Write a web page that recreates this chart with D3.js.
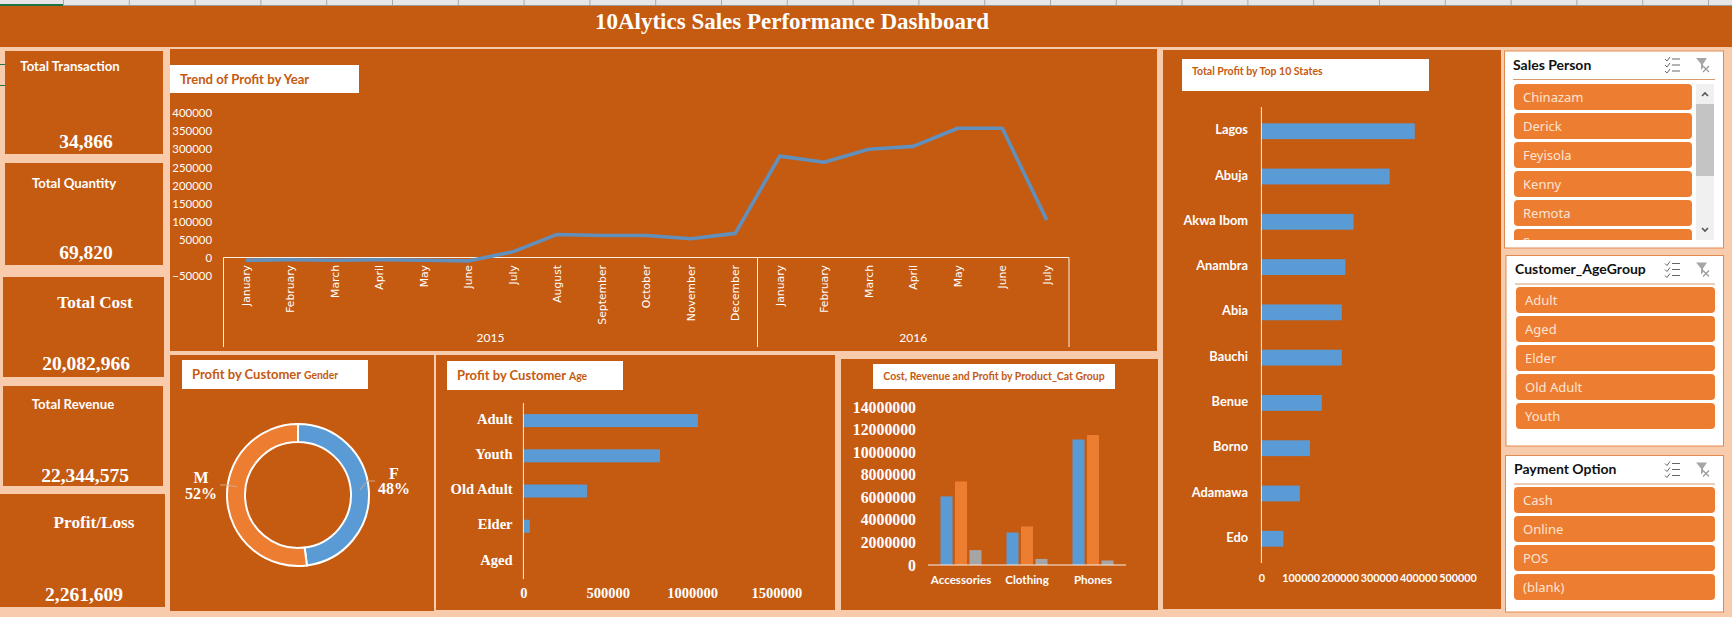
<!DOCTYPE html>
<html>
<head>
<meta charset="utf-8">
<script src="https://cdn.jsdelivr.net/npm/d3@7"></script>
<style>
  html, body { margin: 0; padding: 0; background: #f8cbad; overflow: hidden; }
  svg { display: block; }
  text { font-family: Lato, sans-serif; }
  .serif, .serif text { font-family: "Liberation Serif", serif; font-weight: bold; }
  .axis path, .axis line { display: none; }
</style>
</head>
<body>
<div id="chart"></div>
<script>
// values
const months = ["January","February","March","April","May","June","July","August","September","October","November","December",
                "January","February","March","April","May","June","July"];
const profitByMonth = [-6000,-5000,-6000,-5000,-6000,-8000,17000,65000,62000,62000,53000,68000,
                       281000,264000,300000,308000,358000,358000,105000];
const trendTicks = [-50000,0,50000,100000,150000,200000,250000,300000,350000,400000];

const genders = ["F","M"];
const genderShare = [48,52];

const ageGroups = ["Adult","Youth","Old Adult","Elder","Aged"];
const ageProfit = [1035000,810000,377000,38000,1000];
const ageTicks = [0,500000,1000000,1500000];

const productGroups = ["Accessories","Clothing","Phones"];
const costValues = [6080000,2880000,11120000];
const revenueValues = [7400000,3420000,11520000];
const profitValues = [1320000,540000,400000];
const productTicks = [0,2000000,4000000,6000000,8000000,10000000,12000000,14000000];

const states = ["Lagos","Abuja","Akwa Ibom","Anambra","Abia","Bauchi","Benue","Borno","Adamawa","Edo"];
const stateProfit = [391000,327000,235000,214000,205000,205000,154000,124000,98000,56000];
const stateTicks = [0,100000,200000,300000,400000,500000];

const salesPeople = ["Chinazam","Derick","Feyisola","Kenny","Remota","S"];
const ageSlicer = ["Adult","Aged","Elder","Old Adult","Youth"];
const paymentOptions = ["Cash","Online","POS","(blank)"];

const BROWN = "#c55a11", ORANGE = "#ed7d31", BLUE = "#5b9bd5", GREY = "#a5a5a5", PEACH = "#f8cbad", CREAM = "#fdf0e6";

let svg = d3.select("#chart").append("svg").attr("width", 1732).attr("height", 617);

function box(x0, y0, x1, y1, fill) {
  return svg.append("rect").attr("x", x0).attr("y", y0).attr("width", x1 - x0).attr("height", y1 - y0).attr("fill", fill);
}

function label(x, y, str, size, opts) {
  opts = opts || {};
  return svg.append("text").attr("x", x).attr("y", y).attr("dy", "0.35em")
    .attr("text-anchor", opts.anchor || "middle")
    .attr("class", opts.serif ? "serif" : null)
    .attr("font-size", size)
    .attr("font-weight", opts.weight || "bold")
    .attr("fill", opts.fill || "#fff")
    .text(str);
}

// spreadsheet header strip left above the dashboard
box(0, 0, 1732, 5, "#e6e6e6");
box(0, 5, 1732, 6, "#9a9a9a");
box(0, 4, 63, 6, "#217346");
d3.range(63, 1732, 65.8).forEach(function(x) { box(x, 0, x + 1, 5, "#a8a8a8"); });

// title band
box(0, 6, 1732, 47, BROWN);
label(792, 21, "10Alytics Sales Performance Dashboard", 23, {serif: true});

// KPI cards
const cards = [
  {r: [5,51,163,154],  t: "Total Transaction", tx: 70, ty: 66,  v: "34,866",     vy: 141, vx: 86},
  {r: [5,163,163,265], t: "Total Quantity",    tx: 74, ty: 183, v: "69,820",     vy: 252, vx: 86},
  {r: [3,277,164,377], t: "Total Cost",        tx: 95, ty: 302, v: "20,082,966", vy: 363, vx: 86, serif: true},
  {r: [3,386,163,486], t: "Total Revenue",     tx: 73, ty: 404, v: "22,344,575", vy: 475, vx: 85},
  {r: [0,494,165,607], t: "Profit/Loss",       tx: 94, ty: 522, v: "2,261,609",  vy: 594, vx: 84, serif: true}
];
cards.forEach(function(c) {
  box(c.r[0], c.r[1], c.r[2], c.r[3], BROWN);
  label(c.tx, c.ty, c.t, c.serif ? 17.2 : 13.2, {serif: c.serif});
  label(c.vx, c.vy, c.v, 19.5, {serif: true});
});
box(0, 64, 5, 65, "#217346");
box(0, 85, 5, 86, "#217346");

// ---- trend of profit
box(170, 49, 1157, 351, BROWN);
box(170, 65, 359, 93, "#fff");
label(180, 79, "Trend of Profit by Year", 13.1, {anchor: "start", fill: BROWN});

let xTrend = d3.scaleBand().domain(d3.range(months.length)).range([223.5, 1069]);
let yTrend = d3.scaleLinear().domain([0, 400000]).range([258, 113]);

svg.append("g").attr("class", "axis").attr("transform", "translate(212,0)")
  .call(d3.axisLeft(yTrend).tickValues(trendTicks).tickSize(0).tickPadding(0).tickFormat(d3.format("d")))
  .call(function(g) {
    g.selectAll("text").attr("font-size", 11.4).attr("fill", "#fff").attr("font-family", "Lato");
  });

// two-level category frame, one box per year
const yearBreak = xTrend(12);
[[223.5, yearBreak, "2015"], [yearBreak, 1069, "2016"]].forEach(function(y) {
  svg.append("path").attr("fill", "none").attr("stroke", CREAM).attr("stroke-width", 1)
    .attr("d", "M" + y[0] + ",347V257.5H" + y[1] + "V347");
  label((y[0] + y[1]) / 2, 338, y[2], 12, {weight: "normal"});
});

svg.append("g").selectAll("text").data(months).enter().append("text")
  .attr("transform", function(d, i) { return "translate(" + (xTrend(i) + xTrend.bandwidth() / 2) + ",265) rotate(-90)"; })
  .attr("text-anchor", "end").attr("dy", "0.35em")
  .attr("font-size", 10.8).attr("fill", "#fff").style("font-family", "'DejaVu Sans'")
  .text(function(d) { return d; });

let trendLine = d3.line()
  .x(function(d, i) { return xTrend(i) + xTrend.bandwidth() / 2; })
  .y(function(d) { return yTrend(d); });

svg.append("path").datum(profitByMonth)
  .attr("fill", "none").attr("stroke", "#6190bd").attr("stroke-width", 3.6).attr("stroke-linejoin", "round")
  .attr("d", trendLine);

// ---- gender donut
box(170, 355, 434, 611, BROWN);
box(182, 360, 368, 389, "#fff");
svg.append("text").attr("x", 192).attr("y", 374).attr("dy", "0.35em").attr("fill", BROWN).attr("font-weight", "bold").attr("font-size", 13)
  .text("Profit by Customer ").append("tspan").attr("font-size", 10.4).text("Gender");

let pie = d3.pie().sort(null)(genderShare);
let arc = d3.arc().innerRadius(53).outerRadius(71);
let donut = svg.append("g").attr("transform", "translate(298,495)");
donut.selectAll("path").data(pie).enter().append("path")
  .attr("d", arc)
  .attr("fill", function(d, i) { return i === 0 ? BLUE : ORANGE; })
  .attr("stroke", "#fff").attr("stroke-width", 2);

// leader lines from the ring out to the labels
svg.append("path").attr("fill", "none").attr("stroke", "#d9a888").attr("stroke-width", 1)
  .attr("d", "M360,490L367,481H375M237,487L227,485H220");
label(394, 473, genders[0], 16, {serif: true});
label(394, 488, genderShare[0] + "%", 16, {serif: true});
label(201, 477, genders[1], 16, {serif: true});
label(201, 493, genderShare[1] + "%", 16, {serif: true});

// ---- profit by age
box(436, 355, 835, 610, BROWN);
box(447, 361, 623, 390, "#fff");
svg.append("text").attr("x", 457).attr("y", 375).attr("dy", "0.35em").attr("fill", BROWN).attr("font-weight", "bold").attr("font-size", 13)
  .text("Profit by Customer ").append("tspan").attr("font-size", 10.4).text("Age");

let yAge = d3.scaleBand().domain(ageGroups).range([403, 579]).paddingInner(0.63).paddingOuter(0.315);
let xAge = d3.scaleLinear().domain([0, 1500000]).range([523.4, 776.3]);

svg.append("g").selectAll("rect").data(ageGroups).enter().append("rect")
  .attr("x", xAge(0))
  .attr("y", function(d) { return yAge(d); })
  .attr("width", function(d, i) { return xAge(ageProfit[i]) - xAge(0); })
  .attr("height", yAge.bandwidth())
  .attr("fill", BLUE);

svg.append("line").attr("x1", xAge(0)).attr("x2", xAge(0)).attr("y1", 403).attr("y2", 579).attr("stroke", CREAM);

svg.append("g").attr("class", "axis serif").attr("transform", "translate(512.6,-1.5)")
  .call(d3.axisLeft(yAge).tickSize(0).tickPadding(0))
  .call(function(g) { g.selectAll("text").attr("font-size", 14.6).attr("fill", "#fff"); });
svg.append("g").attr("class", "axis serif").attr("transform", "translate(0,588)")
  .call(d3.axisBottom(xAge).tickValues(ageTicks).tickSize(0).tickPadding(0).tickFormat(d3.format("d")))
  .call(function(g) { g.selectAll("text").attr("font-size", 14.5).attr("fill", "#fff"); });

// ---- cost, revenue, profit by product group
box(841, 359, 1158, 610, BROWN);
box(873, 364, 1115, 389, "#fff");
label(994, 376, "Cost, Revenue and Profit by Product_Cat Group", 10.5, {fill: BROWN});

let xProduct = d3.scaleBand().domain(productGroups).range([928, 1126]);
let xSeries = d3.scaleBand().domain(["cost","revenue","profit"]).range([0, xProduct.bandwidth()]).paddingInner(0.17).paddingOuter(0.86);
let yProduct = d3.scaleLinear().domain([0, 14000000]).range([565, 407]);
const productSeries = [
  {key: "cost", values: costValues, color: BLUE},
  {key: "revenue", values: revenueValues, color: ORANGE},
  {key: "profit", values: profitValues, color: GREY}
];

svg.append("g").selectAll("g").data(productSeries).enter().append("g")
  .attr("fill", function(s) { return s.color; })
  .selectAll("rect").data(function(s) { return s.values.map(function(v, i) { return {key: s.key, v: v, group: productGroups[i]}; }); })
  .enter().append("rect")
  .attr("x", function(d) { return xProduct(d.group) + xSeries(d.key); })
  .attr("y", function(d) { return yProduct(d.v); })
  .attr("width", xSeries.bandwidth())
  .attr("height", function(d) { return yProduct(0) - yProduct(d.v); });

svg.append("line").attr("x1", 928).attr("x2", 1126).attr("y1", 565).attr("y2", 565).attr("stroke", CREAM);

svg.append("g").attr("class", "axis serif").attr("transform", "translate(916,0)")
  .call(d3.axisLeft(yProduct).tickValues(productTicks).tickSize(0).tickPadding(0).tickFormat(d3.format("d")))
  .call(function(g) { g.selectAll("text").attr("font-size", 15.8).attr("fill", "#fff"); });
svg.append("g").attr("class", "axis").attr("transform", "translate(0,575.5)")
  .call(d3.axisBottom(xProduct).tickSize(0).tickPadding(0))
  .call(function(g) { g.selectAll("text").attr("font-size", 11.6).attr("font-weight", "bold").attr("fill", "#fff").attr("font-family", "Lato"); });

// ---- top 10 states
box(1163, 50, 1501, 609, BROWN);
box(1182, 59, 1429, 91, "#fff");
label(1192, 71, "Total Profit by Top 10 States", 10.5, {anchor: "start", fill: BROWN});

let yState = d3.scaleBand().domain(states).range([107, 563]).paddingInner(0.65).paddingOuter(0.36);
let xState = d3.scaleLinear().domain([0, 500000]).range([1261.4, 1457.5]);

svg.append("g").selectAll("rect").data(states).enter().append("rect")
  .attr("x", xState(0))
  .attr("y", function(d) { return yState(d); })
  .attr("width", function(d, i) { return xState(stateProfit[i]) - xState(0); })
  .attr("height", yState.bandwidth())
  .attr("fill", BLUE);

svg.append("line").attr("x1", xState(0)).attr("x2", xState(0)).attr("y1", 107).attr("y2", 563).attr("stroke", CREAM);

svg.append("g").attr("class", "axis").attr("transform", "translate(1248,-1)")
  .call(d3.axisLeft(yState).tickSize(0).tickPadding(0))
  .call(function(g) { g.selectAll("text").attr("font-size", 12.8).attr("font-weight", "bold").attr("fill", "#fff").attr("font-family", "Lato"); });
svg.append("g").attr("class", "axis").attr("transform", "translate(0,574)")
  .call(d3.axisBottom(xState).tickValues(stateTicks).tickSize(0).tickPadding(0).tickFormat(d3.format("d")))
  .call(function(g) { g.selectAll("text").attr("font-size", 10.8).attr("font-weight", "bold").attr("fill", "#fff").attr("font-family", "Lato"); });

// ---- slicers
function slicer(cfg) {
  box(cfg.x0, cfg.y0, 1723.5, cfg.y1, "#fff").attr("stroke", "#e08a50").attr("stroke-width", 1);
  label(cfg.tx, cfg.y0 + 14, cfg.title, 14, {anchor: "start", fill: "#111"});
  box(cfg.tx, cfg.y0 + 28, 1715, cfg.y0 + 29, "#d99a70");

  let item = d3.scaleBand().domain(cfg.items).range([cfg.top, cfg.top + 29 * cfg.items.length]);
  let g = svg.append("g");
  if (cfg.clip) {
    svg.append("clipPath").attr("id", "slicerClip").append("rect").attr("x", 1500).attr("y", cfg.top).attr("width", 220).attr("height", cfg.clip);
    g.attr("clip-path", "url(#slicerClip)");
  }
  g.selectAll("rect").data(cfg.items).enter().append("rect")
    .attr("x", cfg.ix).attr("width", cfg.iw).attr("height", 26).attr("rx", 4)
    .attr("y", function(d) { return item(d); })
    .attr("fill", ORANGE);
  g.selectAll("text").data(cfg.items).enter().append("text")
    .attr("x", cfg.ix + 9)
    .attr("y", function(d) { return item(d) + 13; })
    .attr("dy", "0.35em")
    .attr("font-size", 13).attr("fill", "#fde4d3").style("font-family", "'Noto Sans'")
    .text(function(d) { return d; });

  // multi-select and clear-filter buttons
  let iconY = cfg.y0 + 14;
  let ic = svg.append("g").attr("transform", "translate(1671," + iconY + ")").attr("stroke", "#666").attr("fill", "none").attr("stroke-width", 1);
  [-6, 0, 6].forEach(function(dy) {
    ic.append("path").attr("d", "M-6," + dy + "l2,2l3,-4");
    ic.append("path").attr("d", "M1," + dy + "h8");
  });
  let fl = svg.append("g").attr("transform", "translate(1702," + iconY + ")");
  fl.append("path").attr("d", "M-6,-7H5L1,-1V3L-1,5V-1Z").attr("fill", "#a6a6a6");
  fl.append("path").attr("d", "M1,1l6,6M7,1l-6,6").attr("stroke", "#999").attr("stroke-width", 1.2);
}

slicer({x0: 1504.5, y0: 51, y1: 248, tx: 1513, title: "Sales Person", items: salesPeople, top: 84, ix: 1514, iw: 178, clip: 156});
box(1696, 84, 1714, 240, "#f0f0f0");
box(1696, 104, 1714, 176, "#c4c4c4");
svg.append("path").attr("fill", "none").attr("stroke", "#555").attr("stroke-width", 1.6)
  .attr("d", "M1702,96l3,-3l3,3M1702,228l3,3l3,-3");
slicer({x0: 1506, y0: 255.5, y1: 446, tx: 1515, title: "Customer_AgeGroup", items: ageSlicer, top: 287, ix: 1516, iw: 199});
slicer({x0: 1505.5, y0: 455.5, y1: 612, tx: 1514, title: "Payment Option", items: paymentOptions, top: 487, ix: 1514, iw: 201});
</script>
</body>
</html>
